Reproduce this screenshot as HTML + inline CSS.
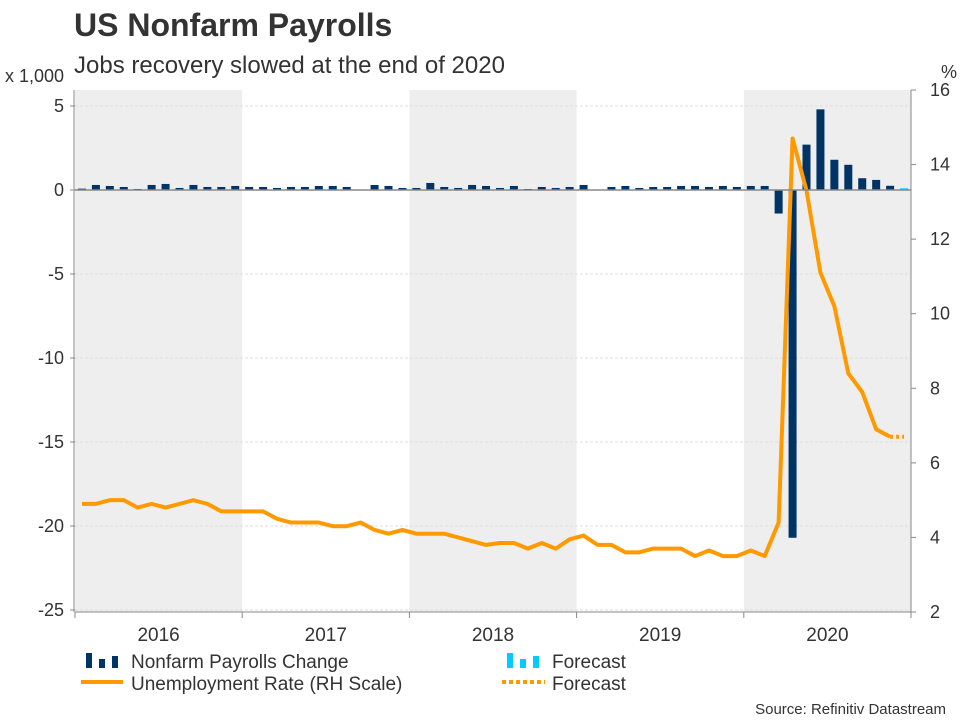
<!DOCTYPE html>
<html><head><meta charset="utf-8"><style>
body{margin:0;background:#fff;width:960px;height:720px;overflow:hidden;font-family:"Liberation Sans",Arial,sans-serif}
</style></head><body>
<svg id="c" width="960" height="720" xmlns="http://www.w3.org/2000/svg" font-family="Liberation Sans, Arial, sans-serif">
<text x="74" y="36" font-size="32" font-weight="bold" fill="#333">US Nonfarm Payrolls</text>
<text x="74" y="73" font-size="24" fill="#333">Jobs recovery slowed at the end of 2020</text>
<text x="5" y="82" font-size="18" fill="#333">x 1,000</text>
<text x="941" y="78" font-size="18" fill="#333">%</text>
<g id="shade"></g><g id="grid"></g><g id="bars"></g><g id="lines"></g><g id="axes"></g>
<g font-size="19" fill="#333">
<rect x="86" y="653" width="6" height="15" fill="#003366"/><rect x="99" y="659" width="6" height="9" fill="#003366"/><rect x="112" y="656" width="6" height="12" fill="#003366"/>
<text x="131" y="668">Nonfarm Payrolls Change</text>
<rect x="507" y="653" width="6" height="15" fill="#00ccff"/><rect x="520" y="659" width="6" height="9" fill="#00ccff"/><rect x="533" y="656" width="6" height="12" fill="#00ccff"/>
<text x="552" y="668">Forecast</text>
<line x1="81" y1="682" x2="123" y2="682" stroke="#ff9900" stroke-width="4"/>
<text x="131" y="690">Unemployment Rate (RH Scale)</text>
<line x1="502" y1="682" x2="545" y2="682" stroke="#ff9900" stroke-width="4" stroke-dasharray="4 3"/>
<text x="552" y="690">Forecast</text>
</g>
<text x="946" y="714" font-size="15" fill="#333" text-anchor="end">Source: Refinitiv Datastream</text>
</svg>
<script>
const years=["2016","2017","2018","2019","2020"];
const payrolls=[0.08,0.3,0.24,0.18,0.06,0.3,0.36,0.12,0.3,0.18,0.18,0.24,
0.18,0.18,0.12,0.18,0.18,0.24,0.24,0.18,0.02,0.3,0.24,0.12,
0.12,0.42,0.18,0.12,0.3,0.24,0.12,0.24,0.06,0.18,0.12,0.18,
0.3,0.02,0.18,0.24,0.12,0.18,0.18,0.24,0.24,0.18,0.24,0.18,
0.24,0.24,-1.4,-20.7,2.7,4.8,1.8,1.5,0.7,0.6,0.25];
const payrollsForecast=[0.1];
const unemp=[4.9,4.9,5.0,5.0,4.8,4.9,4.8,4.9,5.0,4.9,4.7,4.7,
4.7,4.7,4.5,4.4,4.4,4.4,4.3,4.3,4.4,4.2,4.1,4.2,
4.1,4.1,4.1,4.0,3.9,3.8,3.85,3.85,3.7,3.85,3.7,3.95,
4.05,3.8,3.8,3.6,3.6,3.7,3.7,3.7,3.5,3.65,3.5,3.5,
3.65,3.5,4.4,14.7,13.3,11.1,10.2,8.4,7.9,6.9,6.7];
const unempForecast=[6.7];
const leftTicks=[5,0,-5,-10,-15,-20,-25];
const rightTicks=[16,14,12,10,8,6,4,2];
const NS="http://www.w3.org/2000/svg";
const X0=75,X1=911,N=60,mw=(X1-X0)/N;
const xc=i=>X0+(i+0.5)*mw;
const yl=v=>190-v*(610-190)/25;
const yr=v=>612-(v-2)*(612-90)/14;
function mk(p,tag,at){const e=document.createElementNS(NS,tag);for(const k in at)e.setAttribute(k,at[k]);document.getElementById(p).appendChild(e);return e;}
years.forEach((y,k)=>{if(k%2===0){const r=mk('shade','rect',{x:X0+k*12*mw,y:90,width:12*mw,height:522,fill:'#eeeeee'});

}
const t=mk('axes','text',{x:X0+(k*12+6)*mw,y:641,'font-size':19,fill:'#333','text-anchor':'middle'});t.textContent=y;


mk('axes','line',{x1:X0+k*12*mw,x2:X0+k*12*mw,y1:612,y2:618,stroke:'#888'});});
mk('axes','line',{x1:X1,x2:X1,y1:612,y2:618,stroke:'#888'});
leftTicks.forEach(v=>{mk('grid','line',{x1:X0,x2:X1,y1:yl(v),y2:yl(v),stroke:'#ddd','stroke-dasharray':'3 2'});
mk('axes','line',{x1:X0-5,x2:X0,y1:yl(v),y2:yl(v),stroke:'#888'});
const t=mk('axes','text',{x:X0-11,y:yl(v)+6,'font-size':18,fill:'#333','text-anchor':'end'});t.textContent=v;

});
rightTicks.forEach(v=>{mk('axes','line',{x1:X1,x2:X1+5,y1:yr(v),y2:yr(v),stroke:'#888'});
const t=mk('axes','text',{x:X1+19,y:yr(v)+6,'font-size':18,fill:'#333','text-anchor':'start'});t.textContent=v;

});
payrolls.forEach((v,i)=>{const b=mk('bars','rect',{x:xc(i)-4,y:Math.min(yl(v),yl(0)),width:8,height:Math.abs(yl(v)-yl(0)),fill:'#003366'});

});
payrollsForecast.forEach((v,j)=>{const i=payrolls.length+j;const b=mk('bars','rect',{x:xc(i)-4,y:Math.min(yl(v),yl(0)),width:8,height:Math.abs(yl(v)-yl(0)),fill:'#00ccff'});

});
mk('axes','line',{x1:X0,x2:X1,y1:yl(0),y2:yl(0),stroke:'#888','stroke-width':1.5});
const pl=mk('lines','polyline',{points:unemp.map((v,i)=>xc(i)+','+yr(v)).join(' '),fill:'none',stroke:'#ff9900','stroke-width':4,'stroke-linejoin':'round'});


const last=unemp.length-1;
const fp=[xc(last)+','+yr(unemp[last])].concat(unempForecast.map((v,j)=>xc(last+1+j)+','+yr(v))).join(' ');
const fl=mk('lines','polyline',{points:fp,fill:'none',stroke:'#ff9900','stroke-width':4,'stroke-dasharray':'3 3'});


mk('axes','line',{x1:X0-1,x2:X0-1,y1:90,y2:612,stroke:'#888'});
mk('axes','line',{x1:X1,x2:X1,y1:90,y2:612,stroke:'#888'});
mk('axes','line',{x1:X0,x2:X1,y1:612,y2:612,stroke:'#888'});
</script>
</body></html>
